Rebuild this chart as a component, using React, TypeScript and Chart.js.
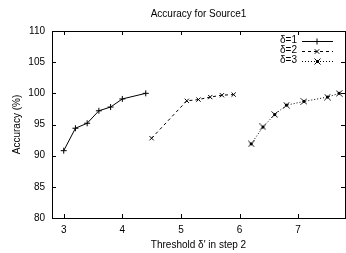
import React, { useEffect, useRef } from 'react';
import { Chart, registerables } from 'chart.js';

Chart.register(...registerables);

const FONT = '"Liberation Sans", Arial, Helvetica, sans-serif';

const titleText = 'Accuracy for Source1';
const xTitle = "Threshold δ' in step 2";
const yTitle = 'Accuracy (%)';
const seriesLabels = ['δ=1', 'δ=2', 'δ=3'];

const x1 = [3.0, 3.2, 3.4, 3.6, 3.8, 4.0, 4.4];
const y1 = [90.8, 94.4, 95.2, 97.2, 97.8, 99.1, 100.0];
const x2 = [4.5, 5.1, 5.3, 5.5, 5.7, 5.9];
const y2 = [92.8, 98.8, 99.0, 99.4, 99.7, 99.8];
const x3 = [6.2, 6.4, 6.6, 6.8, 7.1, 7.5, 7.7];
const y3 = [91.9, 94.6, 96.6, 98.1, 98.7, 99.4, 100.0];

const xTickValues = [3, 4, 5, 6, 7];
const yTickValues = [80, 85, 90, 95, 100, 105, 110];

const xMin = 2.8;
const xMax = 7.8;
const yMin = 80;
const yMax = 110;

const dashes: number[][] = [[], [3, 3], [1, 2]];

function makeBoxStar(): HTMLCanvasElement {
  const c = document.createElement('canvas');
  c.width = 7;
  c.height = 7;
  const g = c.getContext('2d')!;
  g.fillStyle = '#000';
  g.fillRect(2, 2, 3, 3);
  g.strokeStyle = '#000';
  g.lineWidth = 1;
  g.beginPath();
  g.moveTo(0.5, 0.5);
  g.lineTo(6.5, 6.5);
  g.moveTo(6.5, 0.5);
  g.lineTo(0.5, 6.5);
  g.stroke();
  return c;
}

function pts(xs: number[], ys: number[]) {
  return xs.map((x, i) => ({ x, y: ys[i] }));
}

function drawMarker(ctx: CanvasRenderingContext2D, kind: any, x: number, y: number, r: number) {
  if (typeof kind !== 'string') {
    ctx.drawImage(kind, Math.round(x - kind.width / 2), Math.round(y - kind.height / 2));
    return;
  }
  ctx.beginPath();
  if (kind === 'cross') {
    ctx.moveTo(x - r, y);
    ctx.lineTo(x + r, y);
    ctx.moveTo(x, y - r);
    ctx.lineTo(x, y + r);
  }
  if (kind === 'crossRot') {
    const d = r * 0.75;
    ctx.moveTo(x - d, y - d);
    ctx.lineTo(x + d, y + d);
    ctx.moveTo(x + d, y - d);
    ctx.lineTo(x - d, y + d);
  }
  ctx.stroke();
}

export default function App() {
  const ref = useRef<HTMLCanvasElement>(null);
  useEffect(() => {
    if (!ref.current) return;
    const markers: any[] = ['cross', 'crossRot', makeBoxStar()];

    const framePlugin = {
      id: 'gnuframe',
      afterDraw(chart: any) {
        const { ctx, chartArea } = chart;
        const { left, right, top, bottom } = chartArea;
        const xs = chart.scales.x;
        const ys = chart.scales.y;
        ctx.save();
        ctx.strokeStyle = '#000';
        ctx.lineWidth = 1;
        ctx.setLineDash([]);
        ctx.strokeRect(Math.round(left) + 0.5, Math.round(top) + 0.5, Math.round(right - left), Math.round(bottom - top));
        const tl = 4;
        ctx.beginPath();
        xs.ticks.forEach((t: any) => {
          const px = Math.round(xs.getPixelForValue(t.value)) + 0.5;
          ctx.moveTo(px, bottom);
          ctx.lineTo(px, bottom - tl);
          ctx.moveTo(px, top);
          ctx.lineTo(px, top + tl);
        });
        ys.ticks.forEach((t: any) => {
          const py = Math.round(ys.getPixelForValue(t.value)) + 0.5;
          ctx.moveTo(left, py);
          ctx.lineTo(left + tl, py);
          ctx.moveTo(right, py);
          ctx.lineTo(right - tl, py);
        });
        ctx.stroke();

        ctx.fillStyle = '#000';
        ctx.font = `10px ${FONT}`;
        ctx.textAlign = 'center';
        ctx.textBaseline = 'middle';
        ctx.fillText(titleText, (left + right) / 2, 14);

        chart.data.datasets.forEach((ds: any, i: number) => {
          const yy = top + 9.5 + i * 10;
          ctx.textAlign = 'right';
          ctx.fillText(ds.label, right - 48, yy);
          ctx.beginPath();
          ctx.setLineDash(dashes[i]);
          ctx.moveTo(right - 43, Math.round(yy) + 0.5);
          ctx.lineTo(right - 12, Math.round(yy) + 0.5);
          ctx.stroke();
          ctx.setLineDash([]);
          drawMarker(ctx, markers[i], right - 28, Math.round(yy) + 0.5, 3);
        });
        ctx.restore();
      },
    };

    const mk = (i: number, xs: number[], ysv: number[]) => ({
      label: seriesLabels[i],
      data: pts(xs, ysv),
      borderColor: '#000',
      backgroundColor: '#000',
      borderWidth: 1,
      borderDash: dashes[i],
      pointStyle: markers[i],
      pointRadius: 3,
      pointBorderWidth: 1,
      pointBorderColor: '#000',
      showLine: true,
      tension: 0,
    });
    const chart = new Chart(ref.current, {
      type: 'scatter',
      data: {
        datasets: [mk(0, x1, y1), mk(1, x2, y2), mk(2, x3, y3)],
      },
      options: {
        animation: false,
        responsive: false,
        devicePixelRatio: 1,
        layout: { padding: { top: 31, right: 3, left: 0, bottom: 0 } },
        plugins: {
          legend: { display: false },
          title: { display: false },
          tooltip: { enabled: false },
        },
        scales: {
          x: {
            type: 'linear',
            min: xMin,
            max: xMax,
            afterBuildTicks: (s: any) => {
              s.ticks = xTickValues.map((v) => ({ value: v }));
            },
            afterFit: (s: any) => {
              s.height = 35;
            },
            ticks: { color: '#000', font: { family: FONT, size: 10 }, padding: 6, maxRotation: 0, autoSkip: false },
            grid: { display: false, drawTicks: false },
            border: { display: false },
            title: { display: true, text: xTitle, color: '#000', font: { family: FONT, size: 10 }, padding: { top: 0, bottom: 2 } },
          },
          y: {
            type: 'linear',
            min: yMin,
            max: yMax,
            afterBuildTicks: (s: any) => {
              s.ticks = yTickValues.map((v) => ({ value: v }));
            },
            afterFit: (s: any) => {
              s.width = 52;
            },
            ticks: { color: '#000', font: { family: FONT, size: 10 }, padding: 7, autoSkip: false },
            grid: { display: false, drawTicks: false },
            border: { display: false },
            title: { display: true, text: yTitle, color: '#000', font: { family: FONT, size: 10 }, padding: { top: 11, bottom: 0 } },
          },
        },
      },
      plugins: [framePlugin],
    });
    return () => chart.destroy();
  }, []);
  return (
    <div style={{ position: 'fixed', left: 0, top: 0, width: 350, height: 253, background: '#fff' }}>
      <canvas ref={ref} width={350} height={253} style={{ display: 'block' }} />
    </div>
  );
}
